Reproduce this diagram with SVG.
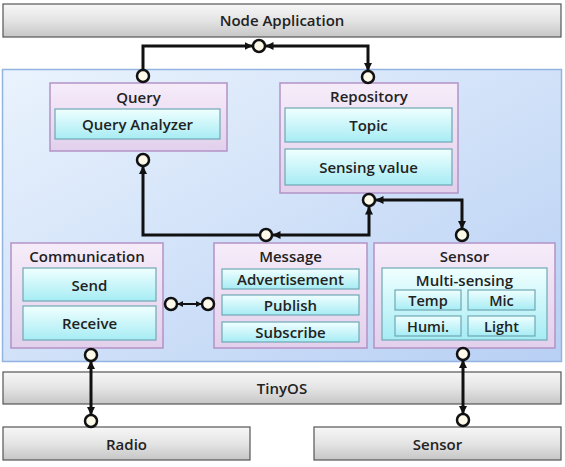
<svg xmlns="http://www.w3.org/2000/svg" width="565" height="467" viewBox="0 0 565 467">
<defs>
<linearGradient id="gGray" x1="0" y1="0" x2="0" y2="1"><stop offset="0" stop-color="#f7f7f7"/><stop offset="0.5" stop-color="#e4e4e4"/><stop offset="1" stop-color="#c6c6c6"/></linearGradient>
<linearGradient id="gBlue" x1="0" y1="0" x2="1" y2="1"><stop offset="0" stop-color="#eaf3fd"/><stop offset="1" stop-color="#b8d0f4"/></linearGradient>
<linearGradient id="gPurple" x1="0" y1="0" x2="0" y2="1"><stop offset="0" stop-color="#f6ecf9"/><stop offset="1" stop-color="#e2d0ec"/></linearGradient>
<linearGradient id="gCyan" x1="0" y1="0" x2="0" y2="1"><stop offset="0" stop-color="#f0ffff"/><stop offset="1" stop-color="#a6ecf4"/></linearGradient>
<marker id="arr" viewBox="0 0 8 8" refX="8" refY="4" markerWidth="8" markerHeight="8" markerUnits="userSpaceOnUse" orient="auto-start-reverse"><path d="M0,0 L8,4 L0,8 z" fill="#111"/></marker>
<marker id="arrS" viewBox="0 0 8 8" refX="8" refY="4" markerWidth="6" markerHeight="6" markerUnits="userSpaceOnUse" orient="auto-start-reverse"><path d="M0,0 L8,4 L0,8 z" fill="#111"/></marker>
</defs>
<style>
.bar{fill:url(#gGray);stroke:#555;stroke-width:1.2}
.cont{fill:url(#gBlue);stroke:#93b3e0;stroke-width:1.5}
.pbox{fill:url(#gPurple);stroke:#b293c6;stroke-width:1.5}
.cbox{fill:url(#gCyan);stroke:#6fa7b5;stroke-width:1.2}
.t{font-family:"Open Sans","Noto Sans",sans-serif;font-weight:600;font-size:15px;fill:#222;text-anchor:middle;dominant-baseline:central}
.s{font-size:14.5px}
.c{stroke:#111;stroke-width:3;fill:none}
.port{fill:#fffbea;stroke:#111;stroke-width:2.5}
</style>
<g id="node-application"><rect class="bar" x="3" y="4" width="558" height="33"/><text class="t" x="282" y="20">Node Application</text></g>
<g id="container"><rect class="cont" x="2.5" y="69.5" width="559" height="292"/></g>
<g id="query"><rect class="pbox" x="50" y="83" width="177" height="68"/><text class="t" x="138.5" y="97">Query</text>
<rect class="cbox" x="55" y="109" width="165" height="30"/><text class="t" x="137.5" y="124">Query Analyzer</text></g>
<g id="repository"><rect class="pbox" x="280" y="83" width="178" height="110"/><text class="t" x="369" y="96">Repository</text>
<rect class="cbox" x="285" y="108" width="167" height="34"/><text class="t" x="368.5" y="125">Topic</text>
<rect class="cbox" x="285" y="149" width="167" height="36"/><text class="t" x="368.5" y="167">Sensing value</text></g>
<g id="communication"><rect class="pbox" x="11" y="243" width="152" height="105"/><text class="t" x="87" y="256">Communication</text>
<rect class="cbox" x="23" y="268" width="133" height="33"/><text class="t" x="89.5" y="284.5">Send</text>
<rect class="cbox" x="23" y="306" width="133" height="34"/><text class="t" x="89.5" y="323">Receive</text></g>
<g id="message"><rect class="pbox" x="214" y="243" width="153" height="105"/><text class="t" x="290.5" y="256">Message</text>
<rect class="cbox" x="222" y="269" width="137" height="20"/><text class="t" x="290.5" y="279">Advertisement</text>
<rect class="cbox" x="222" y="295" width="137" height="20"/><text class="t" x="290.5" y="305">Publish</text>
<rect class="cbox" x="222" y="322" width="137" height="20"/><text class="t" x="290.5" y="332">Subscribe</text></g>
<g id="sensor"><rect class="pbox" x="374" y="243" width="181" height="105"/><text class="t" x="464.5" y="256">Sensor</text>
<rect class="cbox" x="382" y="268" width="165" height="72"/><text class="t" x="464.5" y="280">Multi-sensing</text>
<rect class="cbox" x="395" y="290" width="66" height="20"/><text class="t s" x="428" y="300">Temp</text>
<rect class="cbox" x="468" y="290" width="67" height="20"/><text class="t s" x="501.5" y="300">Mic</text>
<rect class="cbox" x="395" y="316" width="66" height="20"/><text class="t s" x="428" y="326">Humi.</text>
<rect class="cbox" x="468" y="316" width="67" height="20"/><text class="t s" x="501.5" y="326">Light</text></g>
<g id="tinyos"><rect class="bar" x="3" y="372" width="558" height="32"/><text class="t" x="282" y="388">TinyOS</text></g>
<g id="radio"><rect class="bar" x="3" y="427" width="247" height="33"/><text class="t" x="126.5" y="443.5">Radio</text></g>
<g id="sensor-hw"><rect class="bar" x="314" y="427" width="247" height="33"/><text class="t" x="437.5" y="443.5">Sensor</text></g>
<g id="connectors">
<path class="c" d="M143,70 V46 H252.5" marker-end="url(#arr)"/>
<path class="c" d="M265.5,46 H368 V71" marker-start="url(#arr)" marker-end="url(#arr)"/>
<path class="c" d="M260,235 H143 V166" marker-end="url(#arr)"/>
<path class="c" d="M272.5,235 H369 V206.5" marker-start="url(#arr)" marker-end="url(#arr)"/>
<path class="c" d="M375.5,200 H462 V229" marker-start="url(#arr)" marker-end="url(#arr)"/>
<path class="c" style="stroke-width:2" d="M177,304 H202" marker-start="url(#arrS)" marker-end="url(#arrS)"/>
<path class="c" d="M91,361 V415" marker-start="url(#arr)" marker-end="url(#arr)"/>
<path class="c" d="M463,360 V414" marker-start="url(#arr)" marker-end="url(#arr)"/>
<circle class="port" cx="259" cy="46" r="6"/>
<circle class="port" cx="143" cy="76" r="6"/>
<circle class="port" cx="143" cy="160" r="6"/>
<circle class="port" cx="368" cy="77" r="6"/>
<circle class="port" cx="369" cy="200" r="6"/>
<circle class="port" cx="266" cy="235" r="6"/>
<circle class="port" cx="462" cy="235" r="6"/>
<circle class="port" cx="171" cy="304" r="6"/>
<circle class="port" cx="208" cy="304" r="6"/>
<circle class="port" cx="91" cy="355" r="6"/>
<circle class="port" cx="91" cy="421" r="6"/>
<circle class="port" cx="463" cy="354" r="6"/>
<circle class="port" cx="463" cy="420" r="6"/>
</g>
</svg>
